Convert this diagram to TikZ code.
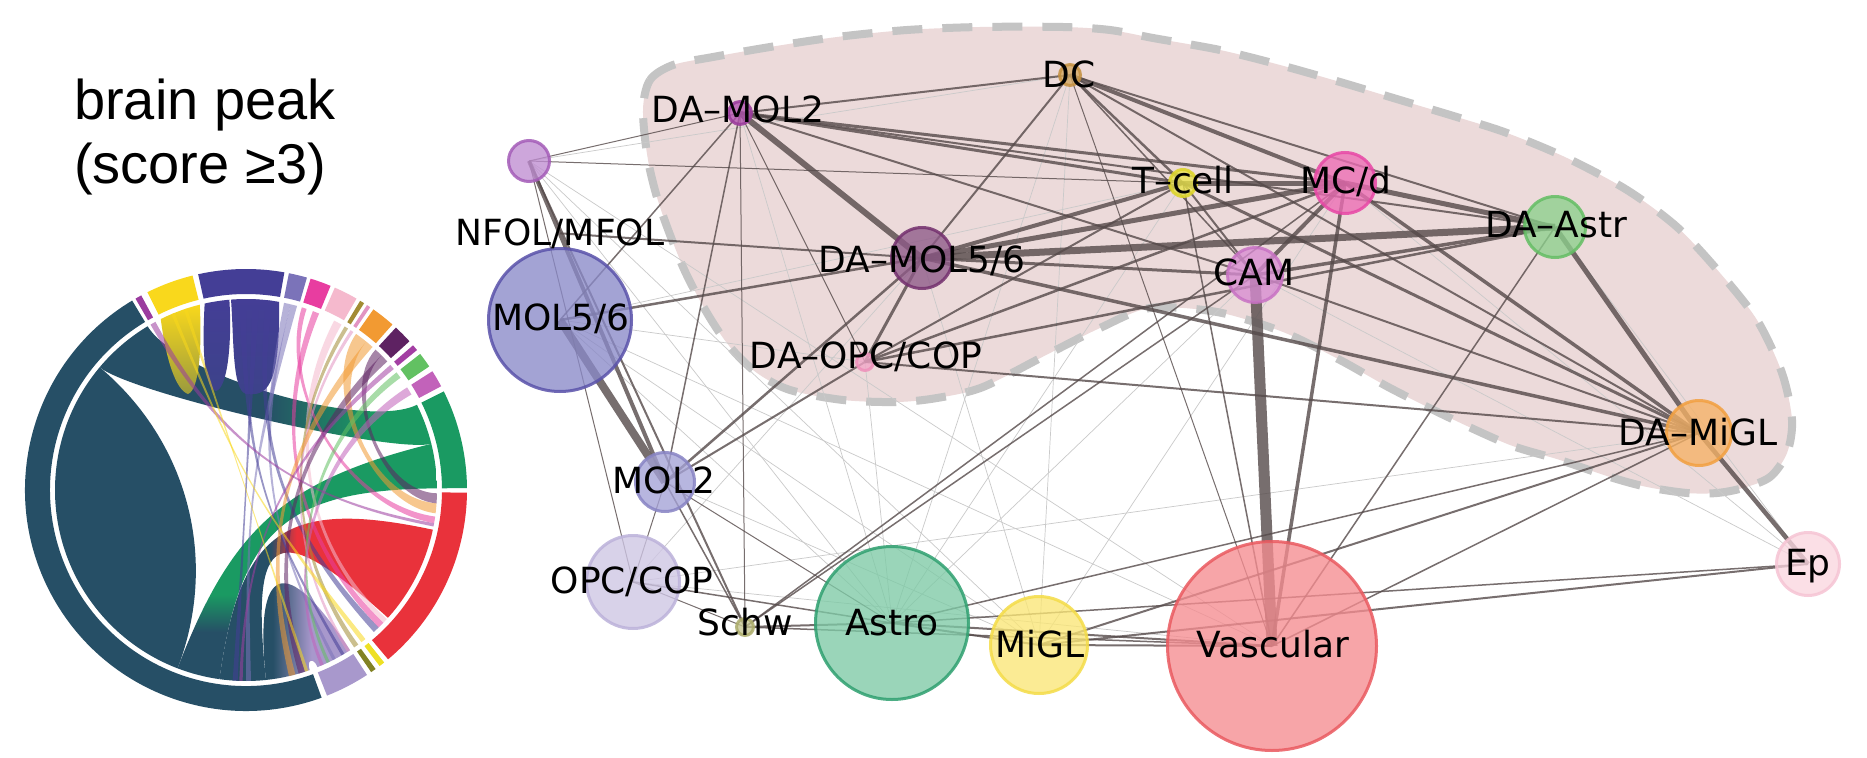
\documentclass[tikz,border=0pt]{standalone}
\usepackage{fontspec}
\setmainfont{DejaVu Sans}
\newfontfamily\titlefont{Liberation Sans}
\definecolor{cTeal}{HTML}{264F66}
\definecolor{cPur}{HTML}{9B3C9F}
\definecolor{cYel}{HTML}{F9D81C}
\definecolor{cInd}{HTML}{443E96}
\definecolor{cSla}{HTML}{7B73B9}
\definecolor{cMag}{HTML}{E83DA0}
\definecolor{cLpk}{HTML}{F5B9CD}
\definecolor{cOli}{HTML}{A28C34}
\definecolor{cTpk}{HTML}{E294C2}
\definecolor{cOra}{HTML}{F29A32}
\definecolor{cDpu}{HTML}{5E2262}
\definecolor{cTmg}{HTML}{A33EA3}
\definecolor{cLgr}{HTML}{62C162}
\definecolor{cPpk}{HTML}{C262BA}
\definecolor{cGrn}{HTML}{1A9A62}
\definecolor{cRed}{HTML}{E9323B}
\definecolor{cTyl}{HTML}{EEE024}
\definecolor{cTol}{HTML}{828224}
\definecolor{cLav}{HTML}{A898CC}
\definecolor{cEdge}{HTML}{554A4A}
\definecolor{cLight}{HTML}{CACACA}
\definecolor{cHull}{HTML}{ECDADA}
\definecolor{cDash}{HTML}{C4C4C4}
% node colours
\definecolor{fNfol}{HTML}{C08ED2}\definecolor{sNfol}{HTML}{A45CB8}
\definecolor{fDamoltwo}{HTML}{B252B0}\definecolor{sDamoltwo}{HTML}{9A3A9C}
\definecolor{fDc}{HTML}{D4A860}\definecolor{sDc}{HTML}{C49040}
\definecolor{fTcell}{HTML}{EAE44A}\definecolor{sTcell}{HTML}{DCD428}
\definecolor{fMcd}{HTML}{EC6CB4}\definecolor{sMcd}{HTML}{E848A6}
\definecolor{fCam}{HTML}{D88CD2}\definecolor{sCam}{HTML}{C872C4}
\definecolor{fDastr}{HTML}{8CD08C}\definecolor{sDastr}{HTML}{64BE64}
\definecolor{fDamolfs}{HTML}{8E5A88}\definecolor{sDamolfs}{HTML}{74306E}
\definecolor{fDaopc}{HTML}{F2A6C8}\definecolor{sDaopc}{HTML}{EE90BA}
\definecolor{fMolfs}{HTML}{8A8AC8}\definecolor{sMolfs}{HTML}{5A52AA}
\definecolor{fMoltwo}{HTML}{A4A2D6}\definecolor{sMoltwo}{HTML}{8884C4}
\definecolor{fOpc}{HTML}{CEC6E4}\definecolor{sOpc}{HTML}{BCB2DA}
\definecolor{fSchw}{HTML}{C4C490}\definecolor{sSchw}{HTML}{ACAC6A}
\definecolor{fAstro}{HTML}{7ECAA6}\definecolor{sAstro}{HTML}{2FA070}
\definecolor{fMigl}{HTML}{FAE676}\definecolor{sMigl}{HTML}{F4DC48}
\definecolor{fVasc}{HTML}{F58C90}\definecolor{sVasc}{HTML}{EA5A60}
\definecolor{fDamigl}{HTML}{F5B266}\definecolor{sDamigl}{HTML}{F2A040}
\definecolor{fEp}{HTML}{FAD6E0}\definecolor{sEp}{HTML}{F6C4D4}
\pgfdeclareverticalshading{sgt}{100bp}{color(0bp)=(cTeal); color(35bp)=(cTeal); color(43bp)=(cGrn); color(100bp)=(cGrn)}
\pgfdeclarehorizontalshading{stg}{100bp}{color(0bp)=(cTeal); color(50bp)=(cTeal); color(66bp)=(cGrn); color(100bp)=(cGrn)}
\pgfdeclarehorizontalshading{srt}{100bp}{color(0bp)=(cTeal); color(37bp)=(cTeal); color(43bp)=(cRed); color(100bp)=(cRed)}
\pgfdeclarehorizontalshading{slt}{100bp}{color(0bp)=(cTeal); color(35bp)=(cTeal); color(55bp)=(cLav); color(100bp)=(cLav)}
% ribbon with explicit control radii: a1 a2 b1 b2 kin kout style
\newcommand\chordrib[7]{\path[#7] (#1:191) arc[start angle=#1,end angle=#2,radius=191] .. controls (#2:#5) and (#3:#5) .. (#3:191) arc[start angle=#3,end angle=#4,radius=191] .. controls (#4:#6) and (#1:#6) .. cycle;}
% thin strand with automatic height: a1 a2 b1 b2 style
\newcommand\chordthin[5]{%
 \pgfmathsetmacro\chdd{min(abs(#3-#2),360-abs(#3-#2))}%
 \pgfmathsetmacro\chkk{max(0,191*(1-\chdd/180))}%
 \path[#5] (#1:191) arc[start angle=#1,end angle=#2,radius=191] .. controls (#2:\chkk) and (#3:\chkk) .. (#3:191) arc[start angle=#3,end angle=#4,radius=191] .. controls (#4:\chkk) and (#1:\chkk) .. cycle;}
\tikzset{
  ed/.style={line width=#1pt, draw=cEdge, draw opacity=0.8},
  lt/.style={line width=0.7pt, draw=cLight},
  lab/.style={font=\fontsize{36}{40}\selectfont, inner sep=0pt, anchor=base},
  ttl/.style={font=\titlefont\fontsize{56}{60}\selectfont, inner sep=0pt, anchor=base west},
  th/.style={fill=#1, fill opacity=0.55}
}
\begin{document}
\begin{tikzpicture}[x=1pt,y=1pt]
\useasboundingbox (0,-757) rectangle (1867,0);
\fill[white] (0,-757) rectangle (1867,0);
% ---------------- title
\node[ttl] (t1) at (74,-120) {brain peak};
\node[ttl] (t2) at (74,-183) {(score ≥3)};
% ---------------- chord diagram
\begin{scope}[shift={(246,-490)}]
\foreach \a/\b/\c in {121/290/cTeal, 118.3/120/cPur, 104/116.5/cYel, 80/102.5/cInd, 74/78.8/cSla, 67.5/73/cMag, 60/66.3/cLpk, 57.7/58.9/cOli, 55.8/56.8/cTpk, 48.5/54.8/cOra, 42.3/47.3/cDpu, 39.3/40.9/cTmg, 34/38/cLgr, 28/32.5/cPpk, 0.5/26.5/cGrn, -50/-0.7/cRed, -52.8/-51.3/cTyl, -55.5/-54.1/cTol, -68.5/-56.8/cLav}
  \fill[\c] (\a:221) arc[start angle=\a,end angle=\b,radius=221] -- (\b:196) arc[start angle=\b,end angle=\a,radius=196] -- cycle;
% big ribbons
\fill[cTeal] (140:191) arc[start angle=140,end angle=249,radius=191] .. controls (249:75) and (140:75) .. cycle;
\chordrib{14}{26.5}{121}{140}{133}{150}{shade, shading=stg}
\chordrib{249}{262}{360.5}{374}{40}{40}{shade, shading=sgt}
\chordrib{262}{276}{318}{348}{40}{40}{shade, shading=srt}
\chordrib{276}{289.5}{292}{303}{180}{73}{shade, shading=slt}
% stalactites (yellow, indigo)
\shade[top color=cYel, bottom color=cYel!55!cTeal] (116.5:191) .. controls (-80,130) and (-70,100) .. (-58,96) .. controls (-47,100) and (-44,140) .. (104:191) arc[start angle=104,end angle=116.5,radius=191] -- cycle;
\shade[top color=cInd, bottom color=cInd!75!cTeal] (102.5:191) .. controls (-44,140) and (-42,102) .. (-30,99) .. controls (-18,102) and (-14,150) .. (95:191) arc[start angle=95,end angle=102.5,radius=191] -- cycle;
\shade[top color=cInd, bottom color=cInd!75!cTeal] (94.5:191) .. controls (-12,150) and (-14,100) .. (0,96) .. controls (20,94) and (34,100) .. (80:191) arc[start angle=80,end angle=94.5,radius=191] -- cycle;
% thin strands
\chordthin{74.5}{76.5}{270}{271.5}{th=cSla}
\chordthin{76.5}{78.5}{297}{298}{th=cSla}
\chordthin{82}{84}{312}{314}{th=cInd}
\chordthin{86}{88}{266}{267.5}{th=cInd}
\chordthin{90}{92}{300}{301}{th=cInd}
\chordthin{67.5}{69.5}{314}{316}{th=cMag}
\chordthin{71.5}{73}{350}{352}{th=cMag}
\chordthin{60}{62.5}{316}{317.5}{th=cLpk}
\chordthin{57.7}{58.9}{304.5}{306}{th=cOli}
\chordthin{55.8}{56.8}{302}{303}{th=cTpk}
\chordthin{48.5}{51}{283}{285}{th=cOra}
\chordthin{51}{54.8}{353}{356}{th=cOra}
\chordthin{42.3}{44.8}{286}{288}{th=cDpu}
\chordthin{44.8}{47.3}{356}{359}{th=cDpu}
\chordthin{39.3}{40.9}{268}{269}{th=cTmg}
\chordthin{36}{38}{295}{296}{th=cLgr}
\chordthin{30}{32.5}{293}{294}{th=cPpk}
\chordthin{118.3}{120}{349}{350}{th=cPur}
\chordthin{112}{113}{307.2}{308.7}{th=cYel}
\chordthin{108}{109}{288}{289}{th=cYel}
\end{scope}
% ---------------- hull
\draw[fill=cHull, draw=cDash, line width=8pt, dash pattern=on 30pt off 20pt]
 plot[smooth cycle, tension=0.5] coordinates {(643,-110) (650,-80) (673,-65) (713,-57) (770,-47) (837,-37) (907,-30) (980,-27) (1063,-27) (1110,-30) (1153,-38) (1220,-50) (1280,-65) (1340,-82) (1400,-100) (1460,-118) (1507,-133) (1567,-158) (1627,-190) (1677,-227) (1720,-273) (1757,-320) (1782,-373) (1792,-420) (1787,-453) (1770,-477) (1743,-488) (1717,-493) (1687,-493) (1647,-487) (1610,-477) (1560,-460) (1510,-445) (1450,-418) (1390,-388) (1340,-360) (1283,-332) (1217,-312) (1150,-308) (1100,-328) (1050,-353) (983,-387) (937,-398) (897,-402) (843,-400) (790,-390) (757,-373) (730,-347) (707,-313) (683,-267) (660,-207) (648,-160)};
% ---------------- label anchor for the NFOL/MFOL edge
\node[lab] (lnfol) at (560,-245) {\phantom{NFOL/MFOL}};
% circle nodes (empty, placed first so edges can reference them)
\path
 (529,-161) node[circle, minimum size=44pt] (nfol) {}
 (740,-113) node[circle, minimum size=26pt] (damol2) {}
 (1070,-75) node[circle, minimum size=24pt] (dc) {}
 (1183,-183) node[circle, minimum size=30pt] (tcell) {}
 (1345,-183) node[circle, minimum size=64pt] (mcd) {}
 (1255,-275) node[circle, minimum size=58pt] (cam) {}
 (1555,-227) node[circle, minimum size=64pt] (dastr) {}
 (922,-258) node[circle, minimum size=64pt] (damol56) {}
 (865,-362) node[circle, minimum size=20pt] (daopc) {}
 (560,-320) node[circle, minimum size=146pt] (mol56) {}
 (665,-482) node[circle, minimum size=62pt] (mol2) {}
 (633,-582) node[circle, minimum size=96pt] (opc) {}
 (745,-627) node[circle, minimum size=20pt] (schw) {}
 (892,-623) node[circle, minimum size=156pt] (astro) {}
 (1039,-645) node[circle, minimum size=100pt] (migl) {}
 (1272,-646) node[circle, minimum size=212pt] (vasc) {}
 (1699,-433) node[circle, minimum size=68pt] (damigl) {}
 (1808,-564) node[circle, minimum size=66pt] (ep) {};
% ---------------- light edges
\foreach \u/\v in {nfol/astro, nfol/migl, nfol/vasc, mol56/astro, mol56/migl, mol56/vasc, mol56/daopc, mol2/migl, opc/vasc, opc/damol56, damol2/astro, dc/astro, dc/migl, tcell/astro, cam/astro, mcd/migl, daopc/astro, damol56/migl, dastr/ep, mcd/ep, cam/ep, damigl/opc, nfol/dc, mol56/tcell}
  \draw[lt] (\u.center) -- (\v.center);
% ---------------- dark edges
\foreach \u/\v/\w in {cam/vasc/11, mol56/mol2/8, damol56/dastr/7, damol2/damol56/6, damol56/mcd/5, damol56/tcell/4, tcell/mcd/5, mcd/dastr/5, dastr/damigl/5, dc/mcd/4, cam/mcd/4, cam/dastr/3.5, damol56/damigl/3.5, mcd/damigl/3.5, damigl/ep/4.5, nfol/mol2/4, mcd/vasc/3.5, damol56/cam/3, tcell/damigl/3, damol2/tcell/3, damol2/mcd/3, damol2/dastr/2, damol2/cam/2, dc/tcell/2.5, dc/dastr/2, dc/damigl/2, dc/damol56/2, dc/damol2/2, damol56/mol56/2.5, mol2/damol56/2.5, daopc/damol56/3, daopc/tcell/2, daopc/mcd/2.5, daopc/dastr/2.5, daopc/damigl/2, daopc/mol2/2, tcell/vasc/1.5, dastr/vasc/1.5, cam/damigl/2, tcell/cam/2, schw/cam/1.5, schw/mcd/1.5, schw/astro/2, schw/vasc/1.5, opc/astro/1.5, opc/schw/1, mol2/schw/1.5, mol2/astro/1, mol2/opc/1, nfol/opc/1, nfol/schw/2, damol2/mol56/1.5, damol2/mol2/1.5, damol2/schw/1, damol2/daopc/1, damol2/nfol/1, nfol/tcell/1, astro/migl/2, astro/vasc/2, astro/damigl/1.5, astro/ep/1.5, migl/vasc/2, migl/damigl/2, migl/ep/2, vasc/damigl/1.5, dc/vasc/1, dc/cam/1.5}
  \draw[ed=\w] (\u.center) -- (\v.center);
\draw[ed=2] (lnfol.center) -- (damol56.center);
% ---------------- circles
\foreach \n/\f/\s/\d in {nfol/fNfol/sNfol/44, damol2/fDamoltwo/sDamoltwo/26, dc/fDc/sDc/24, tcell/fTcell/sTcell/30, mcd/fMcd/sMcd/64, cam/fCam/sCam/58, dastr/fDastr/sDastr/64, damol56/fDamolfs/sDamolfs/64, daopc/fDaopc/sDaopc/20, mol56/fMolfs/sMolfs/146, mol2/fMoltwo/sMoltwo/62, opc/fOpc/sOpc/96, schw/fSchw/sSchw/20, astro/fAstro/sAstro/156, migl/fMigl/sMigl/100, vasc/fVasc/sVasc/212, damigl/fDamigl/sDamigl/68, ep/fEp/sEp/66}
  \path[fill=\f, draw=\s, line width=3pt, fill opacity=0.78, draw opacity=0.85] (\n.center) circle[radius=\d/2-1.5];
% ---------------- labels on top
\node[lab] (tnfol) at (560,-245) {NFOL/MFOL};
\node[lab] (ldamoltwo) at (738,-123) {DA–MOL2};
\node[lab] (ldc) at (1069,-88) {DC};
\node[lab] (ltcell) at (1183,-193) {T–cell};
\node[lab] (lmcd) at (1346,-193) {MC/d};
\node[lab] (lcam) at (1254,-285) {CAM};
\node[lab] (ldastr) at (1556,-237) {DA–Astr};
\node[lab] (ldamolfs) at (922,-272) {DA–MOL5/6};
\node[lab] (ldaopc) at (866,-368) {DA–OPC/COP};
\node[lab] (lmolfs) at (561,-330) {MOL5/6};
\node[lab] (lmoltwo) at (664,-493) {MOL2};
\node[lab] (lopc) at (632,-593) {OPC/COP};
\node[lab] (lschw) at (745,-635) {Schw};
\node[lab] (lastro) at (892,-635) {Astro};
\node[lab] (lmigl) at (1040,-657) {MiGL};
\node[lab] (lvasc) at (1273,-657) {Vascular};
\node[lab] (ldamigl) at (1698,-445) {DA–MiGL};
\node[lab] (lep) at (1808,-575) {Ep};
\end{tikzpicture}
\end{document}
